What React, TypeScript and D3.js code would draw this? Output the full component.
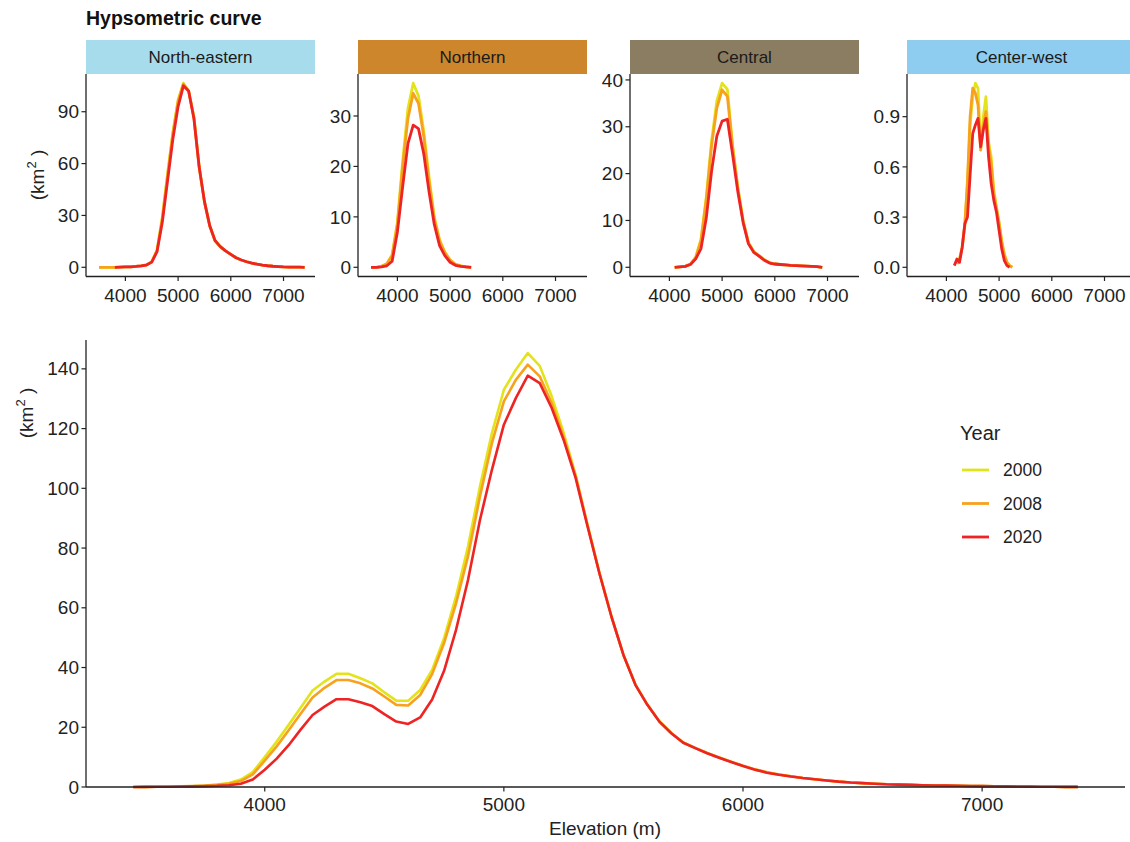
import React from 'react';
import * as d3 from 'd3';

// legend / series
const years = ['2000', '2008', '2020'];
const yearColors = ['#e3e31c', '#f7a11d', '#ee2323'];

// bottom panel: whole area, 50 m bins
const elevTotal = [
  3450, 3500, 3550, 3600, 3650, 3700, 3750, 3800, 3850, 3900,
  3950, 4000, 4050, 4100, 4150, 4200, 4250, 4300, 4350, 4400,
  4450, 4500, 4550, 4600, 4650, 4700, 4750, 4800, 4850, 4900,
  4950, 5000, 5050, 5100, 5150, 5200, 5250, 5300, 5350, 5400,
  5450, 5500, 5550, 5600, 5650, 5700, 5750, 5800, 5850, 5900,
  5950, 6000, 6050, 6100, 6150, 6200, 6250, 6300, 6350, 6400,
  6450, 6500, 6550, 6600, 6650, 6700, 6750, 6800, 6850, 6900,
  6950, 7000, 7050, 7100, 7150, 7200, 7250, 7300, 7350, 7400,
];
const total2000 = [
  0, 0.05, 0.1, 0.15, 0.2, 0.3, 0.5, 0.8, 1.3, 2.5,
  5.0, 10.0, 15.2, 20.8, 26.5, 32.3, 35.3, 37.9, 37.9, 36.4,
  34.7, 31.7, 28.9, 28.9, 32.5, 39.2, 49.8, 63.8, 80.5, 100.6,
  118.5, 133.0, 139.7, 145.3, 141.0, 130.8, 118.6, 104.5, 87.8, 71.6,
  57.1, 44.2, 34.3, 27.6, 22.0, 18.1, 14.9, 13.1, 11.4, 9.9,
  8.5, 7.1, 5.9, 4.9, 4.2, 3.6, 3.0, 2.6, 2.2, 1.8,
  1.5, 1.3, 1.1, 0.9, 0.8, 0.7, 0.6, 0.5, 0.45, 0.4,
  0.35, 0.3, 0.25, 0.2, 0.15, 0.12, 0.1, 0.08, 0.05, 0.03,
];
const total2008 = [
  0, 0.05, 0.1, 0.15, 0.2, 0.3, 0.4, 0.7, 1.1, 2.0,
  4.2, 8.8, 13.6, 19.0, 24.5, 30.0, 33.2, 35.8, 35.8, 34.7,
  33.0, 30.3, 27.5, 27.3, 30.8, 37.8, 48.2, 61.5, 77.2, 97.3,
  115.1, 129.1, 136.3, 141.4, 137.5, 128.5, 117.2, 104.2, 87.6, 71.5,
  57.0, 44.2, 34.3, 27.6, 22.0, 18.1, 14.9, 13.1, 11.4, 9.9,
  8.5, 7.1, 5.9, 4.9, 4.2, 3.6, 3.0, 2.6, 2.2, 1.8,
  1.5, 1.3, 1.1, 0.9, 0.8, 0.7, 0.6, 0.5, 0.45, 0.4,
  0.35, 0.3, 0.25, 0.2, 0.15, 0.12, 0.1, 0.08, 0.05, 0.03,
];
const total2020 = [
  0, 0.05, 0.08, 0.1, 0.15, 0.2, 0.3, 0.4, 0.6, 1.1,
  2.5, 5.8, 9.5, 14.0, 19.2, 24.1, 26.9, 29.4, 29.4, 28.4,
  27.1, 24.4, 21.9, 21.1, 23.3, 29.3, 38.9, 52.6, 69.3, 89.4,
  106.2, 121.3, 130.2, 137.7, 135.2, 126.9, 116.2, 103.5, 87.2, 71.4,
  57.0, 44.2, 34.2, 27.5, 21.9, 18.0, 14.8, 13.0, 11.3, 9.8,
  8.4, 7.0, 5.8, 4.8, 4.1, 3.5, 3.0, 2.6, 2.2, 1.8,
  1.5, 1.3, 1.1, 0.9, 0.8, 0.7, 0.6, 0.5, 0.45, 0.4,
  0.35, 0.3, 0.25, 0.2, 0.15, 0.12, 0.1, 0.08, 0.05, 0.03,
];
const totalTicksY = [0, 20, 40, 60, 80, 100, 120, 140];
const elevTicks = [4000, 5000, 6000, 7000];

// North-eastern
const elevNE = [
  3500, 3600, 3700, 3800, 3900, 4000, 4100, 4200, 4300, 4400,
  4500, 4600, 4700, 4800, 4900, 5000, 5100, 5200, 5300, 5400,
  5500, 5600, 5700, 5800, 5900, 6000, 6100, 6200, 6300, 6400,
  6500, 6600, 6700, 6800, 6900, 7000, 7100, 7200, 7300, 7400,
];
const ne2000 = [
  0, 0, 0, 0, 0.1, 0.2, 0.3, 0.5, 0.8, 1.4,
  3.2, 10, 29, 54, 78, 97, 106.5, 102, 87, 58,
  38, 24, 15.5, 12, 9.5, 7.5, 5.5, 4.2, 3.2, 2.4,
  1.8, 1.3, 0.9, 0.6, 0.4, 0.2, 0.1, 0.1, 0.05, 0,
];
const ne2008 = [
  0, 0, 0, 0, 0.1, 0.2, 0.3, 0.5, 0.8, 1.4,
  3.1, 9.6, 28, 53, 77, 96, 106, 102, 87, 58,
  38, 24, 15.5, 12, 9.5, 7.5, 5.5, 4.2, 3.2, 2.4,
  1.8, 1.3, 0.9, 0.6, 0.4, 0.2, 0.1, 0.1, 0.05, 0,
];
const ne2020 = [
  null, null, null, 0, 0.1, 0.2, 0.3, 0.5, 0.8, 1.3,
  3.0, 9, 26, 50, 74, 93, 105, 102, 86, 58,
  38, 24, 15.5, 12, 9.5, 7.5, 5.5, 4.2, 3.2, 2.4,
  1.8, 1.3, 0.9, 0.6, 0.4, 0.2, 0.1, 0.1, 0.05, 0,
];

// Northern
const elevN = [
  3500, 3600, 3700, 3800, 3900, 4000, 4100, 4200, 4300, 4400,
  4500, 4600, 4700, 4800, 4900, 5000, 5100, 5200, 5300, 5400,
];
const n2000 = [0, 0, 0.2, 0.7, 2.5, 9, 21, 31.5, 36.5, 34, 27, 18, 10, 5.5, 3, 1.5, 0.6, 0.3, 0.1, 0];
const n2008 = [0, 0, 0.2, 0.7, 2.3, 8.5, 20, 29.5, 34.5, 32.5, 26, 17, 9.5, 5.2, 2.9, 1.4, 0.6, 0.3, 0.1, 0];
const n2020 = [0, 0, 0.1, 0.3, 1.2, 7, 16, 24.5, 28.2, 27.5, 22.5, 15, 8.5, 4.3, 2.3, 1.0, 0.4, 0.2, 0.1, 0];

// Central
const elevC = [
  4100, 4200, 4300, 4400, 4500, 4600, 4700, 4800, 4900, 5000,
  5100, 5200, 5300, 5400, 5500, 5600, 5700, 5800, 5900, 6000,
  6100, 6200, 6300, 6400, 6500, 6600, 6700, 6800, 6900,
];
const c2000 = [0, 0.1, 0.2, 0.7, 2.2, 6, 15, 27, 35.5, 39.3, 38, 26, 17, 10, 5.3, 3.4, 2.5, 1.6, 1.0, 0.7, 0.6, 0.5, 0.4, 0.35, 0.3, 0.25, 0.2, 0.15, 0];
const c2008 = [0, 0.1, 0.2, 0.7, 2.1, 5.7, 14.5, 26, 34, 37.9, 36.5, 25.5, 16.8, 9.8, 5.2, 3.3, 2.5, 1.6, 1.0, 0.7, 0.6, 0.5, 0.4, 0.35, 0.3, 0.25, 0.2, 0.15, 0];
const c2020 = [0, 0.1, 0.2, 0.6, 1.8, 4.0, 10.5, 20.5, 28, 31.2, 31.6, 24, 16, 9.5, 5, 3.2, 2.4, 1.5, 0.9, 0.7, 0.6, 0.5, 0.4, 0.35, 0.3, 0.25, 0.2, 0.15, 0];

// Center-west
const elevCW = [
  4150, 4200, 4250, 4300, 4350, 4400, 4450, 4500, 4550, 4600, 4650, 4700,
  4750, 4800, 4850, 4900, 4950, 5000, 5050, 5100, 5150, 5200, 5250,
];
const cw2000 = [null, 0.02, 0.05, 0.12, 0.25, 0.5, 0.85, 1.02, 1.1, 1.07, 0.72, 0.9, 1.02, 0.75, 0.66, 0.46, 0.36, 0.27, 0.16, 0.08, 0.03, 0.01, 0];
const cw2008 = [null, 0.02, 0.05, 0.12, 0.26, 0.52, 0.9, 1.07, 1.04, 0.97, 0.7, 0.84, 0.93, 0.72, 0.62, 0.44, 0.35, 0.26, 0.15, 0.07, 0.03, 0.01, 0];
const cw2020 = [0.01, 0.05, 0.03, 0.12, 0.26, 0.3, 0.55, 0.8, 0.85, 0.89, 0.72, 0.82, 0.89, 0.66, 0.5, 0.4, 0.33, 0.22, 0.11, 0.04, 0.01, 0, null];

const regionNames = ['North-eastern', 'Northern', 'Central', 'Center-west'];
const regionFills = ['#a7dcec', '#cd862c', '#8b7d62', '#8fcdf0'];
const regionTicks = [[0, 30, 60, 90], [0, 10, 20, 30], [0, 10, 20, 30, 40], [0, 0.3, 0.6, 0.9]];

const FONT = '"Liberation Sans", Arial, Helvetica, sans-serif';
const INK = '#222';
const TICK_FS = 19;

type Pt = [number, number | null];

const zip = (xs: number[], ys: (number | null)[]): Pt[] => xs.map((x, i) => [x, ys[i]]);

const Km2 = ({ x, y }: { x: number; y: number }) => (
  <text transform={`translate(${x},${y}) rotate(-90)`} textAnchor="middle" fontSize={19} fill={INK}>
    (km<tspan dy={-8} fontSize={13}>2</tspan><tspan dy={8}> )</tspan>
  </text>
);

const App = () => {
  const xDomain: [number, number] = [3252.5, 7597.5];

  const regions = [
    { elev: elevNE, series: [ne2000, ne2008, ne2020] },
    { elev: elevN, series: [n2000, n2008, n2020] },
    { elev: elevC, series: [c2000, c2008, c2020] },
    { elev: elevCW, series: [cw2000, cw2008, cw2020] },
  ];

  // facet layout
  const panelLeft = [86, 358, 630, 907];
  const panelW = 229;
  const stripTop = 40;
  const plotTop = 74;
  const plotBottom = 276.5;

  // bottom panel
  const bx = d3.scaleLinear().domain(xDomain).range([86, 1125]);
  const bMax = d3.max(total2000) as number;
  const by = d3.scaleLinear().domain([0, bMax * 1.03]).range([787, 340]);
  const totals = [total2000, total2008, total2020];

  const lineFor = (x: d3.ScaleLinear<number, number>, y: d3.ScaleLinear<number, number>) =>
    d3.line<Pt>()
      .defined(d => d[1] != null)
      .x(d => x(d[0]))
      .y(d => y(d[1] as number));

  const bLine = lineFor(bx, by);

  return (
    <div style={{ position: 'absolute', left: 0, top: 0 }}>
      <svg width={1130} height={842} fontFamily={FONT} style={{ display: 'block', background: '#fff' }}>
        <text x={86} y={25} fontSize={19.5} fontWeight="bold" fill="#111">Hypsometric curve</text>

        {regions.map((r, pi) => {
          const x0 = panelLeft[pi];
          const x = d3.scaleLinear().domain(xDomain).range([x0, x0 + panelW]);
          const all = r.series.flat().filter(v => v != null) as number[];
          const lo = Math.min(0, d3.min(all) as number);
          const hi = d3.max(all) as number;
          const pad = (hi - lo) * 0.05;
          const y = d3.scaleLinear().domain([lo - pad, hi + pad]).range([plotBottom, plotTop]);
          const ln = lineFor(x, y);
          const fmt = pi === 3 ? d3.format('.1f') : d3.format('d');
          return (
            <g key={pi}>
              <rect x={x0} y={stripTop} width={panelW} height={plotTop - stripTop} fill={regionFills[pi]} />
              <text x={x0 + panelW / 2} y={(stripTop + plotTop) / 2} dy="0.35em" textAnchor="middle" fontSize={17} fill="#1a1a1a">
                {regionNames[pi]}
              </text>
              {r.series.map((s, si) => (
                <path key={si} d={ln(zip(r.elev, s)) || ''} fill="none" stroke={yearColors[si]} strokeWidth={2.8} strokeLinejoin="round" />
              ))}
              <line x1={x0} x2={x0} y1={plotTop} y2={plotBottom} stroke={INK} strokeWidth={1.3} />
              <line x1={x0} x2={x0 + panelW} y1={plotBottom} y2={plotBottom} stroke={INK} strokeWidth={1.3} />
              {regionTicks[pi].map(t => (
                <g key={t}>
                  <line x1={x0 - 4.5} x2={x0} y1={y(t)} y2={y(t)} stroke={INK} strokeWidth={1.2} />
                  <text x={x0 - 7} y={y(t)} dy="0.35em" textAnchor="end" fontSize={TICK_FS} fill={INK}>{fmt(t)}</text>
                </g>
              ))}
              {elevTicks.map(t => (
                <g key={t}>
                  <line x1={x(t)} x2={x(t)} y1={plotBottom} y2={plotBottom + 4.5} stroke={INK} strokeWidth={1.2} />
                  <text x={x(t)} y={302} textAnchor="middle" fontSize={TICK_FS} fill={INK}>{t}</text>
                </g>
              ))}
            </g>
          );
        })}
        <Km2 x={44} y={175} />

        {/* bottom panel */}
        {totals.map((s, si) => (
          <path key={si} d={bLine(zip(elevTotal, s)) || ''} fill="none" stroke={yearColors[si]} strokeWidth={2.6} strokeLinejoin="round" />
        ))}
        <line x1={86} x2={86} y1={340} y2={787} stroke={INK} strokeWidth={1.3} />
        <line x1={86} x2={1125} y1={787} y2={787} stroke={INK} strokeWidth={1.3} />
        {totalTicksY.map(t => (
          <g key={t}>
            <line x1={81.5} x2={86} y1={by(t)} y2={by(t)} stroke={INK} strokeWidth={1.2} />
            <text x={79} y={by(t)} dy="0.35em" textAnchor="end" fontSize={TICK_FS} fill={INK}>{t}</text>
          </g>
        ))}
        {elevTicks.map(t => (
          <g key={t}>
            <line x1={bx(t)} x2={bx(t)} y1={787} y2={791.5} stroke={INK} strokeWidth={1.2} />
            <text x={bx(t)} y={811} textAnchor="middle" fontSize={TICK_FS} fill={INK}>{t}</text>
          </g>
        ))}
        <Km2 x={33} y={413} />
        <text x={605} y={835} textAnchor="middle" fontSize={19} fill={INK}>Elevation (m)</text>

        {/* legend */}
        <text x={960} y={440} fontSize={20} fill={INK}>Year</text>
        {years.map((yr, i) => (
          <g key={yr} transform={`translate(0,${470 + i * 33.5})`}>
            <line x1={962} x2={989} y1={0} y2={0} stroke={yearColors[i]} strokeWidth={2.8} />
            <text x={1003} y={0} dy="0.35em" fontSize={17.5} fill={INK}>{yr}</text>
          </g>
        ))}
      </svg>
    </div>
  );
};

export default App;
